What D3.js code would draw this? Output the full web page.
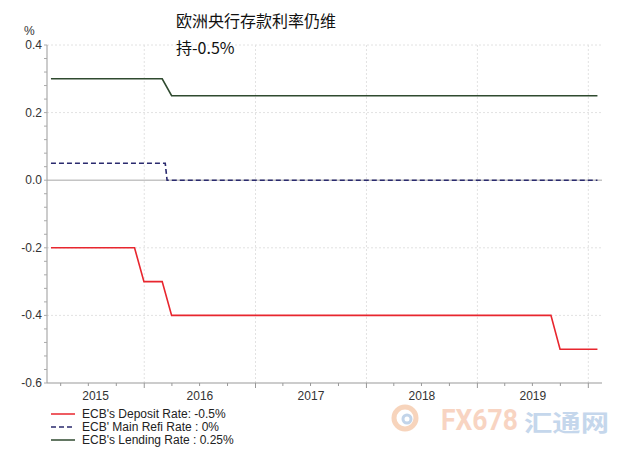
<!DOCTYPE html>
<html lang="zh">
<head>
  <meta charset="UTF-8">
  <title>ECB rates</title>
  <script src="https://d3js.org/d3.v7.min.js"></script>
  <style>
    body { margin: 0; background: #fff; }
    svg { display: block; font-family: "Liberation Sans", Arial, sans-serif; }
    .tick-label { font-size: 12px; fill: #333; }
    .legend-label { font-size: 12px; fill: #222; }
    .title { font-family: "Noto Sans CJK SC", sans-serif; font-size: 16px; fill: #111; }
  </style>
</head>
<body>
<svg width="622" height="453"></svg>
<script>
  // monthly points
  const depositRate = [
    ["2015-02-28", -0.2], ["2015-11-30", -0.2], ["2015-12-31", -0.3],
    ["2016-02-29", -0.3], ["2016-03-31", -0.4], ["2019-08-31", -0.4],
    ["2019-09-30", -0.5], ["2020-01-31", -0.5]
  ];
  const refiRate = [
    ["2015-02-28", 0.05], ["2016-03-10", 0.05], ["2016-03-16", 0.0], ["2020-01-31", 0.0]
  ];
  const lendingRate = [
    ["2015-02-28", 0.3], ["2016-02-29", 0.3], ["2016-03-31", 0.25], ["2020-01-31", 0.25]
  ];
  const yTicks = [0.4, 0.2, 0.0, -0.2, -0.4, -0.6];
  const years = [2015, 2016, 2017, 2018, 2019];
  const legendItems = [
    { label: "ECB's Deposit Rate: -0.5%", color: "#e8262e", dash: null },
    { label: "ECB' Main Refi Rate : 0%", color: "#2a2a6e", dash: "5,3" },
    { label: "ECB's Lending Rate : 0.25%", color: "#2f4a2f", dash: null }
  ];

  const svg = d3.select("svg");
  const parse = d3.timeParse("%Y-%m-%d");
  const plotL = 47, plotR = 602, plotT = 45, plotB = 383;

  const x = d3.scaleTime()
    .domain([parse("2015-02-15"), parse("2020-02-15")])
    .range([plotL, plotR]);
  const y = d3.scaleLinear().domain([-0.6, 0.4]).range([plotB, plotT]);

  // grid
  svg.append("g").selectAll("line")
    .data(yTicks.filter(d => d !== 0 && d !== -0.6))
    .enter().append("line")
    .attr("x1", plotL).attr("x2", plotR)
    .attr("y1", d => y(d)).attr("y2", d => y(d))
    .attr("stroke", "#e2e2e2").attr("stroke-dasharray", "2,2");

  const yearStarts = d3.timeYear.range(parse("2016-01-01"), parse("2020-01-02"));
  svg.append("g").selectAll("line")
    .data(yearStarts)
    .enter().append("line")
    .attr("x1", d => x(d)).attr("x2", d => x(d))
    .attr("y1", plotT).attr("y2", plotB)
    .attr("stroke", "#e2e2e2").attr("stroke-dasharray", "2,2");

  svg.append("line")
    .attr("x1", plotL).attr("x2", plotR)
    .attr("y1", y(0)).attr("y2", y(0))
    .attr("stroke", "#c4c4c4").attr("stroke-width", 1.5);

  // y axis
  const yAxis = svg.append("g");
  yAxis.append("line")
    .attr("x1", plotL).attr("x2", plotL).attr("y1", plotT).attr("y2", plotB)
    .attr("stroke", "#999");
  yAxis.selectAll(".minor")
    .data(d3.range(-0.6, 0.4001, 0.04))
    .enter().append("line")
    .attr("x1", plotL - 3).attr("x2", plotL)
    .attr("y1", d => y(d)).attr("y2", d => y(d))
    .attr("stroke", "#aaa");
  yAxis.selectAll("text")
    .data(yTicks)
    .enter().append("text")
    .attr("class", "tick-label")
    .attr("x", plotL - 5).attr("y", d => y(d) + 4)
    .attr("text-anchor", "end")
    .text(d => d3.format(".1f")(d).replace("−", "-"));
  svg.append("text").attr("class", "tick-label")
    .attr("x", 24).attr("y", 35).text("%");

  // x axis
  const xAxis = svg.append("g");
  xAxis.append("line")
    .attr("x1", plotL).attr("x2", plotR).attr("y1", plotB).attr("y2", plotB)
    .attr("stroke", "#999");
  xAxis.selectAll(".minor")
    .data(d3.timeMonth.every(3).range(x.domain()[0], x.domain()[1]))
    .enter().append("line")
    .attr("x1", d => x(d)).attr("x2", d => x(d))
    .attr("y1", plotB).attr("y2", d => plotB + (d.getMonth() === 0 ? 5 : 3))
    .attr("stroke", "#999");
  xAxis.selectAll("text")
    .data(years)
    .enter().append("text")
    .attr("class", "tick-label")
    .attr("text-anchor", "middle")
    .attr("x", d => {
      const a = Math.max(x(new Date(d, 0, 1)), plotL);
      const b = x(new Date(d + 1, 0, 1));
      return (a + b) / 2;
    })
    .attr("y", 400)
    .text(d => d);

  // series
  const line = d3.line().x(d => x(parse(d[0]))).y(d => y(d[1]));
  [depositRate, refiRate, lendingRate].forEach((s, i) => {
    svg.append("path")
      .datum(s)
      .attr("d", line)
      .attr("fill", "none")
      .attr("stroke", legendItems[i].color)
      .attr("stroke-width", 1.6)
      .attr("stroke-dasharray", legendItems[i].dash);
  });

  // title
  svg.append("text").attr("class", "title").attr("x", 176).attr("y", 27).text("欧洲央行存款利率仍维");
  svg.append("text").attr("class", "title").attr("x", 176).attr("y", 54).text("持-0.5%");

  // watermark
  const wm = svg.append("g").attr("opacity", 0.6);
  wm.append("circle").attr("cx", 405).attr("cy", 418).attr("r", 11)
    .attr("fill", "none").attr("stroke", "#f3b990").attr("stroke-width", 5);
  wm.append("circle").attr("cx", 407).attr("cy", 419).attr("r", 4)
    .attr("fill", "none").attr("stroke", "#9ab8dc").attr("stroke-width", 3);
  wm.append("text").attr("x", 441).attr("y", 430)
    .attr("font-size", 29).attr("font-weight", "bold").attr("fill", "#f4b99a")
    .attr("font-family", "Roboto, sans-serif")
    .attr("textLength", 77).attr("lengthAdjust", "spacingAndGlyphs")
    .text("FX678");
  wm.append("text").attr("x", 524).attr("y", 431)
    .attr("font-size", 23).attr("font-weight", "bold").attr("fill", "#9fbde0")
    .attr("font-family", "Noto Sans CJK SC, sans-serif")
    .attr("textLength", 85).attr("lengthAdjust", "spacingAndGlyphs")
    .text("汇通网");

  // legend
  const lg = svg.append("g").selectAll("g")
    .data(legendItems)
    .enter().append("g")
    .attr("transform", (d, i) => `translate(51, ${414 + i * 13})`);
  lg.append("line").attr("x1", 0).attr("x2", 24)
    .attr("stroke", d => d.color).attr("stroke-width", 1.5)
    .attr("stroke-dasharray", d => d.dash);
  lg.append("text").attr("class", "legend-label")
    .attr("x", 31).attr("y", 4).text(d => d.label);
</script>
</body>
</html>
